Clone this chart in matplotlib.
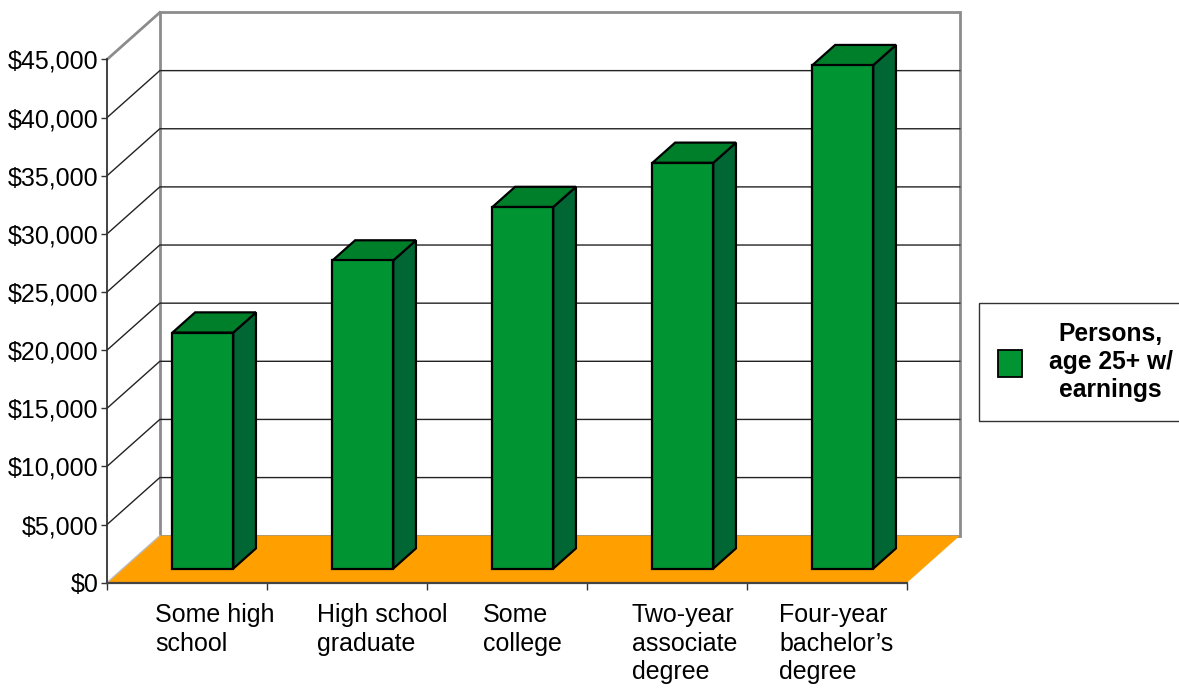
import matplotlib
matplotlib.use('Agg')
from matplotlib import pyplot as plt
from matplotlib.patches import Polygon, Patch
from matplotlib.ticker import FuncFormatter

categories = ['Some high\nschool', 'High school\ngraduate', 'Some\ncollege',
              'Two-year\nassociate\ndegree', 'Four-year\nbachelor\u2019s\ndegree']
earnings = [20300, 26500, 31100, 34900, 43300]
series_name = 'Persons,\nage 25+ w/\nearnings'
y_max = 45000
y_step = 5000

# where each wrapped label starts, relative to its category centre
label_shift = [-0.2, -0.19, -0.15, -0.22, -0.3]

plt.rcParams['font.family'] = ['Liberation Sans', 'DejaVu Sans']

FRONT = '#009432'
TOP = '#007F2A'
SIDE = '#006633'
FLOOR = '#FF9F00'
WALL = '#8C8C8C'

# oblique depth offset (data units)
DX = 0.33
DY = 4042
bar_w = 0.38
d0, d1 = 0.3, 0.73

fig = plt.figure(figsize=(11.79, 6.88), dpi=100)
ax = fig.add_axes([0, 0, 1, 1])
ax.set_xlim(-1.16875, 6.2)
ax.set_ylim(-9056, 50116)

n = len(categories)
x0, x1 = -0.5, n - 0.5

# back wall
ax.add_patch(Polygon([(x0 + DX, DY), (x1 + DX, DY), (x1 + DX, y_max + DY), (x0 + DX, y_max + DY)],
                     closed=True, facecolor='white', edgecolor=WALL, lw=2, zorder=1))
# left wall top edge
ax.plot([x0, x0 + DX], [y_max, y_max + DY], color=WALL, lw=2, zorder=1.2)

# gridlines
for v in range(y_step, y_max, y_step):
    ax.plot([x0, x0 + DX, x1 + DX], [v, v + DY, v + DY], color='#222222', lw=1, zorder=1.1)

# floor
ax.add_patch(Polygon([(x0, 0), (x1, 0), (x1 + DX, DY), (x0 + DX, DY)],
                     closed=True, facecolor=FLOOR, edgecolor='none', zorder=1.5))
ax.plot([x0, x0 + DX], [0, DY], color='#bbbbbb', lw=1, zorder=1.6)

# bars
for i, v in enumerate(earnings):
    fx = i + d0 * DX - bar_w / 2
    fy = d0 * DY
    ddx = (d1 - d0) * DX
    ddy = (d1 - d0) * DY
    front = [(fx, fy), (fx + bar_w, fy), (fx + bar_w, fy + v), (fx, fy + v)]
    side = [(fx + bar_w, fy), (fx + bar_w + ddx, fy + ddy), (fx + bar_w + ddx, fy + v + ddy), (fx + bar_w, fy + v)]
    top = [(fx, fy + v), (fx + bar_w, fy + v), (fx + bar_w + ddx, fy + v + ddy), (fx + ddx, fy + v + ddy)]
    for pts, c in ((side, SIDE), (top, TOP), (front, FRONT)):
        ax.add_patch(Polygon(pts, closed=True, facecolor=c, edgecolor='black',
                             lw=1.6, joinstyle='miter', zorder=3))

# axes: spines placed on the front plane
for s in ('top', 'right'):
    ax.spines[s].set_visible(False)
ax.spines['left'].set_position(('data', x0))
ax.spines['left'].set_bounds(0, y_max)
ax.spines['left'].set_color('#333333')
ax.spines['left'].set_linewidth(1.3)
ax.spines['bottom'].set_position(('data', 0))
ax.spines['bottom'].set_bounds(x0, x1)
ax.spines['bottom'].set_color('#444444')
ax.spines['bottom'].set_linewidth(1.6)
ax.spines['left'].set_zorder(2)
ax.spines['bottom'].set_zorder(2)

ax.set_yticks(range(0, y_max + 1, y_step))
ax.yaxis.set_major_formatter(FuncFormatter(lambda v, p: f'${v:,.0f}'))
ax.tick_params(axis='y', direction='out', length=4.5, width=1, color='#333333',
               pad=1.5, labelsize=18)

ax.set_xticks([x0 + k for k in range(n + 1)])
ax.set_xticklabels([])
ax.set_xticks([i + s for i, s in enumerate(label_shift)], minor=True)
ax.set_xticklabels(categories, minor=True)
ax.tick_params(axis='x', which='major', direction='out', length=5, width=1, color='#333333')
ax.tick_params(axis='x', which='minor', length=0, pad=14.5, labelsize=18)
for lab in ax.get_xticklabels(minor=True):
    lab.set_horizontalalignment('left')
    lab.set_multialignment('left')
    lab.set_linespacing(1.25)

leg = ax.legend(handles=[Patch(facecolor=FRONT, edgecolor='black', lw=1.3)], labels=[series_name],
                loc='center left', bbox_to_anchor=(979 / 1179, 1 - 362 / 688),
                bbox_transform=fig.transFigure, borderaxespad=0, fancybox=False,
                edgecolor='#333333', framealpha=1, borderpad=0.78, handlelength=0.95,
                handleheight=1.3, handletextpad=1.1,
                prop={'weight': 'bold', 'size': 17.7})
leg.get_frame().set_linewidth(1.0)
for t in leg.get_texts():
    t.set_multialignment('center')
    t.set_linespacing(1.22)

fig.savefig('out.png', dpi=100)
